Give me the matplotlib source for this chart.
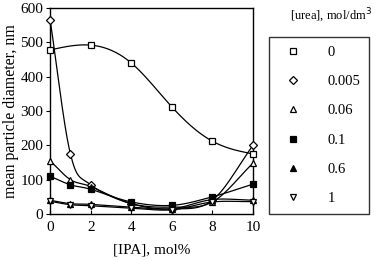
import numpy as np
import matplotlib
matplotlib.use("Agg")
import matplotlib.pyplot as plt
from matplotlib.lines import Line2D

plt.rcParams["font.family"] = ["Liberation Serif", "DejaVu Serif"]

ipa = [0, 1, 2, 4, 6, 8, 10]
ipa_sq = [0, 2, 4, 6, 8, 10]
urea_labels = ["0", "0.005", "0.06", "0.1", "0.6", "1"]

d_0 = [478, 492, 440, 312, 212, 175]
d_0005 = [565, 175, 85, 30, 15, 40, 200]
d_006 = [155, 100, 80, 30, 20, 35, 148]
d_01 = [110, 85, 72, 35, 25, 50, 87]
d_06 = [40, 30, 28, 20, 15, 42, 40]
d_1 = [37, 27, 24, 17, 12, 35, 36]

markers = ["s", "D", "^", "s", "^", "v"]
filled = [False, False, False, True, True, False]
msizes = [5, 3.6, 4.5, 5, 4.5, 4.5]


def catmull(x, y, n=30):
    # Catmull-Rom through the points, like a spreadsheet "smoothed line"
    p = np.column_stack([x, y]).astype(float)
    p = np.vstack([2 * p[0] - p[1], p, 2 * p[-1] - p[-2]])
    out = []
    t = np.linspace(0, 1, n)[:, None]
    for i in range(1, len(p) - 2):
        p0, p1, p2, p3 = p[i - 1], p[i], p[i + 1], p[i + 2]
        seg = 0.5 * ((2 * p1) + (-p0 + p2) * t + (2 * p0 - 5 * p1 + 4 * p2 - p3) * t ** 2
                     + (-p0 + 3 * p1 - 3 * p2 + p3) * t ** 3)
        out.append(seg)
    s = np.vstack(out)
    return s[:, 0], s[:, 1]


def natural(x, y, n=200):
    # natural cubic spline, y as a function of x
    x = np.asarray(x, float)
    y = np.asarray(y, float)
    k = len(x)
    h = np.diff(x)
    A = np.zeros((k, k))
    r = np.zeros(k)
    A[0, 0] = A[-1, -1] = 1
    for i in range(1, k - 1):
        A[i, i - 1] = h[i - 1]
        A[i, i] = 2 * (h[i - 1] + h[i])
        A[i, i + 1] = h[i]
        r[i] = 6 * ((y[i + 1] - y[i]) / h[i] - (y[i] - y[i - 1]) / h[i - 1])
    M = np.linalg.solve(A, r)
    xs = np.linspace(x[0], x[-1], n)
    j = np.clip(np.searchsorted(x, xs) - 1, 0, k - 2)
    a = x[j + 1] - xs
    b = xs - x[j]
    hj = h[j]
    ys = (M[j] * a ** 3 + M[j + 1] * b ** 3) / (6 * hj) \
        + (y[j] / hj - M[j] * hj / 6) * a + (y[j + 1] / hj - M[j + 1] * hj / 6) * b
    return xs, ys


fig = plt.figure(figsize=(3.77, 2.60), dpi=100)
ax = fig.add_axes([0.133, 0.177, 0.538, 0.792])

series = [(ipa_sq, d_0), (ipa, d_0005), (ipa, d_006), (ipa, d_01), (ipa, d_06), (ipa, d_1)]
handles = []
for i, ((xs, ys), m, f, ms, lab) in enumerate(zip(series, markers, filled, msizes, urea_labels)):
    sx, sy = natural(xs, ys) if i == 0 else catmull(xs, ys)
    ax.plot(sx, sy, color="black", lw=0.9, clip_on=False, zorder=2)
    fc = "black" if f else "white"
    ax.plot(xs, ys, ls="none", marker=m, ms=ms, mfc=fc, mec="black", mew=0.9,
            clip_on=False, zorder=3)
    handles.append(Line2D([], [], ls="none", marker=m, ms=ms, mfc=fc, mec="black",
                          mew=0.9, label=lab))

ax.set_xlim(0, 10)
ax.set_ylim(0, 600)
ax.set_xticks([0, 2, 4, 6, 8, 10])
ax.set_yticks(range(0, 601, 100))
ax.tick_params(axis="x", direction="in", length=3, labelsize=11, pad=5)
ax.tick_params(axis="y", direction="out", length=3, labelsize=11, pad=2)
for sp in ax.spines.values():
    sp.set_linewidth(1.0)
ax.set_xlabel("[IPA], mol%", fontsize=11, labelpad=7)
ax.set_ylabel("mean particle diameter, nm", fontsize=11.5, labelpad=1)

leg = fig.legend(handles=handles, loc="upper left", bbox_to_anchor=(0.714, 0.858),
                 frameon=True, fancybox=False, edgecolor="black", fontsize=10.5,
                 handlelength=2.0, handletextpad=1.4, labelspacing=1.1,
                 borderpad=0.6, borderaxespad=0)
leg.get_frame().set_linewidth(1.0)
fig.text(0.768, 0.94, "[urea], mol/dm$^3$", fontsize=9, ha="left", va="center")

fig.savefig("out.png", dpi=100)
